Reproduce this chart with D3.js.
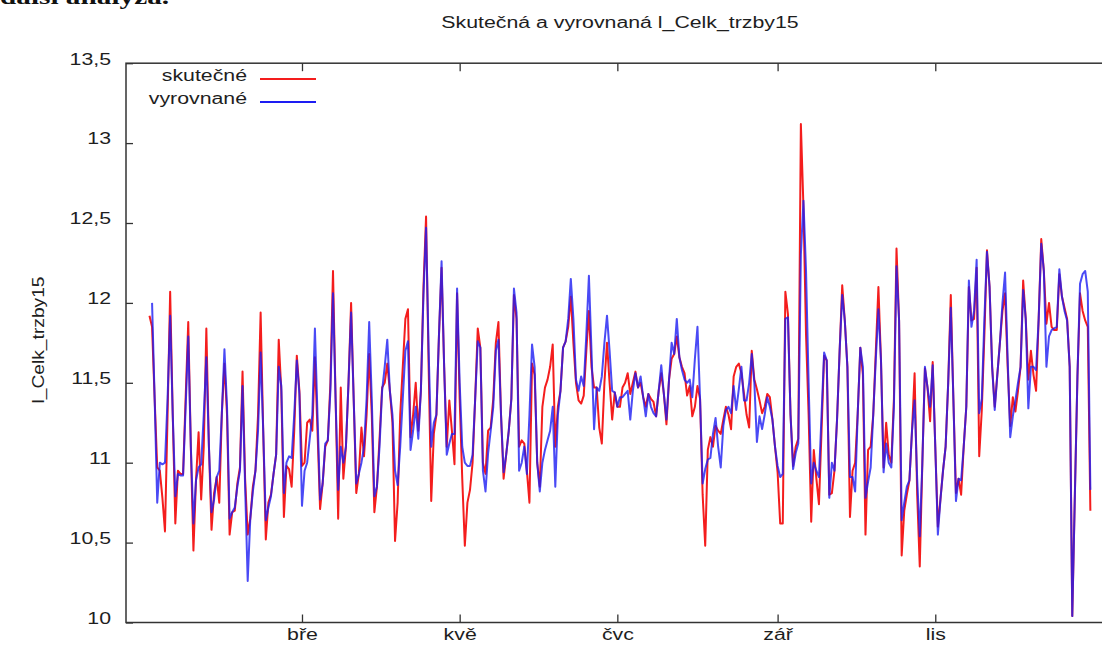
<!DOCTYPE html>
<html>
<head>
<meta charset="utf-8">
<script src="https://cdn.jsdelivr.net/npm/d3@7"></script>
<style>
  body { margin: 0; background: #fff; }
  text { font-family: "Liberation Sans", Arial, sans-serif; fill: #1e1e1e; }
</style>
</head>
<body>
<svg id="chart" width="1102" height="645"></svg>
<script>
// daily values from 1 Jan 2015
var startDay = new Date(2015, 0, 1);

var skutecne = [
  11.92,11.85,11.40,10.97,10.95,10.78,10.57,11.30,12.07,11.30,
  10.62,10.95,10.93,10.93,11.41,11.88,11.10,10.45,10.89,11.19,
  10.77,11.10,11.84,11.10,10.58,10.81,10.91,10.75,11.31,11.62,
  11.30,10.55,10.69,10.70,10.87,10.97,11.57,10.90,10.55,10.65,
  10.85,10.95,11.30,11.94,11.20,10.52,10.75,10.80,10.93,11.05,
  11.77,11.45,10.66,10.98,10.96,10.85,11.20,11.67,11.45,10.98,
  11.00,11.25,11.27,11.20,11.66,11.20,10.71,10.87,11.10,11.14,
  11.50,12.20,11.40,10.65,11.47,10.90,11.10,11.50,12.00,11.40,
  10.81,10.93,11.22,11.04,11.30,11.68,11.30,10.69,10.85,11.15,
  11.47,11.50,11.62,11.45,11.25,10.51,10.75,11.30,11.60,11.90,
  11.96,11.16,11.30,11.50,11.20,11.45,12.10,12.54,11.60,10.76,
  11.18,11.30,11.80,12.22,11.60,11.10,11.39,11.20,10.99,12.06,
  11.40,10.90,10.48,10.75,10.83,11.00,11.40,11.84,11.72,11.00,
  10.93,11.20,11.22,11.40,11.75,11.88,11.30,10.90,11.05,11.20,
  11.40,12.05,11.90,11.10,11.14,11.12,10.95,10.75,11.62,11.55,
  11.00,10.85,11.35,11.47,11.52,11.60,11.74,11.10,11.35,11.45,
  11.72,11.76,11.85,12.04,11.75,11.50,11.39,11.37,11.42,11.70,
  11.95,11.60,11.47,11.47,11.22,11.12,11.50,11.75,11.50,11.27,
  11.44,11.35,11.35,11.47,11.50,11.56,11.43,11.50,11.57,11.47,
  11.50,11.41,11.35,11.43,11.40,11.38,11.29,11.45,11.56,11.43,
  11.24,11.52,11.65,11.68,11.79,11.66,11.60,11.56,11.42,11.48,
  11.29,11.35,11.48,11.40,10.80,10.48,11.08,11.16,11.10,11.23,
  11.20,11.18,11.27,11.35,11.30,11.21,11.54,11.60,11.62,11.56,
  11.43,11.30,11.22,11.70,11.52,11.46,11.39,11.31,11.35,11.43,
  11.41,11.27,11.10,10.94,10.62,10.62,12.07,11.93,11.30,10.98,
  11.10,11.15,13.12,12.60,11.80,11.30,10.63,11.08,10.90,10.74,
  11.20,11.67,11.64,10.80,10.81,10.95,11.27,11.70,12.11,11.89,
  11.60,10.66,10.95,11.00,11.31,11.72,11.55,10.55,11.08,11.10,
  11.30,11.70,12.10,11.64,10.97,11.25,11.05,11.00,11.40,12.34,
  11.89,10.42,10.70,10.80,10.89,11.20,11.56,10.80,10.35,11.00,
  11.59,11.47,11.26,11.63,11.10,10.60,10.77,10.95,11.10,11.50,
  12.05,11.40,10.81,10.90,10.80,11.10,11.35,12.10,11.89,11.90,
  12.22,11.04,11.33,11.80,12.33,12.10,11.60,11.35,11.55,11.75,
  11.95,12.06,11.60,11.23,11.41,11.32,11.45,11.60,12.14,11.90,
  11.52,11.70,11.55,11.45,11.90,12.40,12.20,11.87,12.00,11.85,
  11.83,11.83,12.18,12.04,11.97,11.90,11.60,10.04,10.80,11.54,
  12.06,11.95,11.89,11.85,10.70
];

var vyrovnane = [
  null,12.00,11.40,10.75,11.00,10.99,11.00,11.40,11.92,11.30,
  10.79,10.93,10.92,10.92,11.35,11.79,11.10,10.62,10.89,10.97,
  10.99,11.30,11.66,11.10,10.69,10.77,10.91,10.95,11.31,11.71,
  11.35,10.65,10.69,10.72,10.85,10.95,11.48,10.85,10.26,10.65,
  10.82,10.95,11.20,11.69,11.20,10.64,10.72,10.79,10.93,11.05,
  11.60,11.48,10.81,11.00,11.04,11.03,11.30,11.64,11.43,10.73,
  10.95,11.00,11.15,11.30,11.84,11.30,10.77,10.87,11.12,11.14,
  11.45,12.06,11.40,10.83,11.10,11.00,11.10,11.50,11.94,11.40,
  10.87,10.93,11.00,11.10,11.40,11.88,11.40,10.79,10.85,11.10,
  11.45,11.60,11.77,11.45,11.30,10.95,10.86,11.10,11.40,11.70,
  11.76,11.08,11.20,11.35,11.15,11.45,12.05,12.47,11.70,11.10,
  11.25,11.30,11.80,12.26,11.60,11.05,11.12,11.18,11.18,12.09,
  11.50,11.10,11.00,10.98,10.98,11.05,11.40,11.76,11.72,10.95,
  10.82,11.06,11.20,11.35,11.70,11.77,11.30,10.94,11.05,11.20,
  11.40,12.09,11.94,10.95,11.00,11.10,10.93,11.30,11.74,11.60,
  11.00,10.82,11.00,11.08,11.14,11.20,11.35,10.85,11.30,11.45,
  11.72,11.76,11.90,12.15,11.90,11.52,11.45,11.54,11.48,11.80,
  12.17,11.70,11.21,11.47,11.45,11.54,11.75,11.92,11.70,11.45,
  11.44,11.35,11.41,11.41,11.43,11.45,11.27,11.45,11.56,11.47,
  11.54,11.41,11.29,11.43,11.35,11.31,11.29,11.45,11.61,11.43,
  11.27,11.52,11.75,11.68,11.90,11.66,11.58,11.52,11.50,11.52,
  11.41,11.65,11.85,11.40,10.87,10.96,11.02,11.03,11.18,11.28,
  11.10,10.97,11.23,11.33,11.35,11.31,11.48,11.33,11.46,11.60,
  11.39,11.39,11.50,11.68,11.50,11.13,11.29,11.21,11.30,11.41,
  11.35,11.27,11.10,10.98,10.91,10.93,11.90,11.91,11.30,10.96,
  11.06,11.12,12.30,12.64,12.20,11.50,10.87,11.00,10.95,10.91,
  11.30,11.69,11.64,10.78,11.00,10.95,11.27,11.70,12.05,11.89,
  11.60,10.91,10.91,10.82,11.31,11.72,11.60,10.78,10.88,10.97,
  11.30,11.65,11.96,11.64,10.94,11.12,11.00,10.97,11.35,12.23,
  11.89,10.64,10.75,10.85,10.89,11.20,11.39,10.90,10.54,11.00,
  11.60,11.47,11.35,11.61,11.10,10.55,10.77,10.95,11.10,11.50,
  11.97,11.40,10.76,10.90,10.89,11.10,11.35,12.14,11.85,11.95,
  12.27,11.31,11.40,11.90,12.32,12.10,11.60,11.33,11.55,11.75,
  12.00,12.19,11.65,11.16,11.29,11.39,11.50,11.60,12.08,11.90,
  11.34,11.60,11.60,11.58,11.90,12.37,12.20,11.60,11.79,11.83,
  11.84,11.85,12.21,12.04,11.95,11.89,11.60,10.04,10.79,11.54,
  12.12,12.18,12.20,12.07,10.83
];

var yTicks = [10, 10.5, 11, 11.5, 12, 12.5, 13, 13.5];
var monthTicks = [new Date(2015, 2, 1), new Date(2015, 4, 1), new Date(2015, 6, 1),
                  new Date(2015, 8, 1), new Date(2015, 10, 1)];
var monthNames = ["bře", "kvě", "čvc", "zář", "lis"];
var seriesNames = ["skutečné", "vyrovnané"];
var seriesColors = ["#f41d1d", "#1d1df2"];
var chartTitle = "Skutečná a vyrovnaná l_Celk_trzby15";
var yTitle = "l_Celk_trzby15";
var pageText = "další analýza.";

// plot box (window.top is taken, so no plain "top")
var box = {left: 126, right: 1102, top: 63.2, bottom: 622.5};

var svg = d3.select("#chart");

var x = d3.scaleTime()
    .domain([new Date(2014, 11, 22, 22), new Date(2016, 0, 4, 12)])
    .range([box.left, box.right]);

var y = d3.scaleLinear()
    .domain([10, 13.5])
    .range([box.bottom, box.top]);

// text of the page above the picture, mostly cut off
svg.append("text")
    .attr("class", "stretch")
    .attr("x", 0)
    .attr("y", 4)
    .style("font-family", "'Liberation Serif', serif")
    .style("font-weight", "bold")
    .style("font-size", "22px")
    .style("fill", "#111")
    .text(pageText);

// title
svg.append("text")
    .attr("class", "stretch")
    .attr("x", 620)
    .attr("y", 28)
    .attr("text-anchor", "middle")
    .style("font-size", "16px")
    .text(chartTitle);

// y axis title
svg.append("text")
    .attr("class", "stretch-v")
    .attr("transform", "translate(44,340) rotate(-90)")
    .attr("text-anchor", "middle")
    .style("font-size", "16px")
    .text(yTitle);

// axes
var yAxis = svg.append("g")
    .attr("transform", "translate(" + box.left + ",0)")
    .call(d3.axisLeft(y)
        .tickValues(yTicks)
        .tickSize(-7)
        .tickPadding(15)
        .tickFormat(function(d) { return String(d).replace(".", ","); }));

var xAxis = svg.append("g")
    .attr("transform", "translate(0," + box.bottom + ")")
    .call(d3.axisBottom(x)
        .tickValues(monthTicks)
        .tickSize(-8)
        .tickPadding(6)
        .tickFormat(function(d, i) { return monthNames[i]; }));

var xAxisTop = svg.append("g")
    .attr("transform", "translate(0," + box.top + ")")
    .call(d3.axisTop(x)
        .tickValues(monthTicks)
        .tickSize(-8)
        .tickFormat(""));

svg.selectAll(".domain").remove();
svg.selectAll(".tick line").attr("stroke", "#333").attr("stroke-width", 1.3);
svg.selectAll(".tick text")
    .attr("class", "stretch")
    .style("font-size", "16px")
    .style("font-family", "'Liberation Sans', Arial, sans-serif")
    .attr("fill", "#1e1e1e");
yAxis.selectAll(".tick text").attr("dy", "0.05em");

// frame
svg.append("rect")
    .attr("x", box.left)
    .attr("y", box.top)
    .attr("width", box.right + 10 - box.left)
    .attr("height", box.bottom - box.top)
    .attr("fill", "none")
    .attr("stroke", "#333")
    .attr("stroke-width", 1.5);

// series
var line = d3.line()
    .defined(function(d) { return d != null; })
    .x(function(d, i) { return x(d3.timeDay.offset(startDay, i)); })
    .y(function(d) { return y(d); });

var plot = svg.append("g");

plot.append("path")
    .datum(skutecne)
    .attr("fill", "none")
    .attr("stroke", seriesColors[0])
    .attr("stroke-width", 2)
    .attr("stroke-linejoin", "round")
    .attr("d", line);

plot.append("path")
    .datum(vyrovnane)
    .attr("fill", "none")
    .attr("stroke", seriesColors[1])
    .attr("stroke-opacity", 0.8)
    .attr("stroke-width", 2)
    .attr("stroke-linejoin", "round")
    .attr("d", line);

// legend
var legend = svg.append("g")
    .selectAll("g")
    .data(seriesNames)
    .enter()
    .append("g")
    .attr("transform", function(d, i) { return "translate(0," + (81 + i * 23) + ")"; });

legend.append("text")
    .attr("class", "stretch")
    .attr("x", 247)
    .attr("y", 0)
    .attr("text-anchor", "end")
    .style("font-size", "16px")
    .text(function(d) { return d; });

legend.append("line")
    .attr("x1", 260)
    .attr("x2", 316)
    .attr("y1", -2)
    .attr("y2", -2)
    .attr("stroke", function(d, i) { return seriesColors[i]; })
    .attr("stroke-width", 1.8);

// the picture is stretched sideways, so the text is too
svg.selectAll("text.stretch").each(function() {
  var w = this.getComputedTextLength();
  d3.select(this).attr("textLength", w * 1.33).attr("lengthAdjust", "spacingAndGlyphs");
});
svg.selectAll("text.stretch-v").each(function() {
  var w = this.getComputedTextLength();
  d3.select(this).attr("textLength", w * 1.2).attr("lengthAdjust", "spacingAndGlyphs");
});
</script>
</body>
</html>
